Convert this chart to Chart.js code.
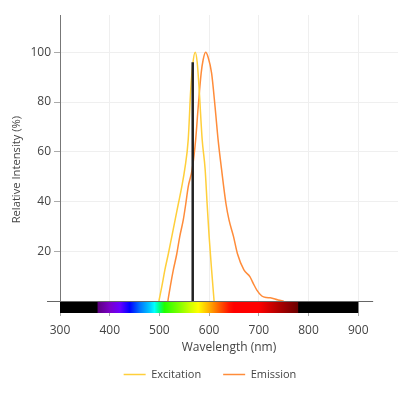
<!doctype html>
<html>

<head>
  <meta charset="utf-8">
  <title>Excitation / Emission Spectrum</title>
  <style>
    html, body { margin: 0; padding: 0; background: #fff; }
    .chartBox { width: 408px; height: 394px; }
  </style>
</head>

<body>
  <div class="chartBox">
    <canvas id="myChart"></canvas>
  </div>

  <script type="text/javascript" src="https://cdn.jsdelivr.net/npm/chart.js"></script>
  <script>
    // values
    const excitationNm  = [499, 505, 511, 518, 525, 532, 538, 545, 551, 558, 563, 567, 572, 576, 580, 586, 592, 596, 600, 605, 610];
    const excitationVal = [0, 6, 12.5, 19, 26, 33, 39, 46, 53, 65, 85, 95, 100, 96, 85, 65, 53, 39, 26, 12.5, 0];

    const emissionNm  = [517, 522, 528, 535, 541, 548, 553, 558, 566, 573, 578, 584, 588, 593, 598, 605, 612, 618, 625, 634, 640, 649, 657, 670, 682, 689, 696, 706, 715, 723, 739, 750];
    const emissionVal = [0, 6, 12.5, 19, 26, 32.6, 39, 46, 53, 65, 78, 91.6, 97, 100, 98, 91.6, 78, 65, 53, 39, 32.6, 26, 19, 12.5, 9.8, 7, 4.4, 2, 1.4, 1.3, 0.4, 0];

    const laserNm = 567;
    const laserTop = 96;

    const xTicks = [300, 400, 500, 600, 700, 800, 900];
    const yTicks = [20, 40, 60, 80, 100];

    // visible-spectrum bar under the axis
    const spectrumNm     = [300, 375, 376, 400, 420, 440, 460, 480, 490, 500, 510, 540, 560, 578, 600, 620, 640, 650, 700, 740, 779, 780, 900];
    const spectrumColors = ['#000000', '#000000', '#5c0080', '#7a00c8', '#6a00ff', '#0000ff', '#0070ff', '#00c8ff', '#00ffff', '#00ff80', '#20ff00', '#80ff00', '#c8ff00', '#ffff00', '#ffb000', '#ff6000', '#ff1500', '#ff0000', '#ff0000', '#b00000', '#6a0000', '#000000', '#000000'];

    const toPoints = (xs, ys) => xs.map((x, i) => ({ x: x, y: ys[i] }));

    const spectrumBar = {
      id: 'spectrumBar',
      afterLayout(chart) {
        // nudge the legend to where the original sits
        const lg = chart.legend;
        lg.left += 11; lg.right += 11;
        lg.top -= 8; lg.bottom -= 8;
      },
      afterDatasetsDraw(chart) {
        const { ctx, chartArea, scales } = chart;
        const x = scales.x;
        const x0 = x.getPixelForValue(spectrumNm[0]);
        const x1 = x.getPixelForValue(spectrumNm[spectrumNm.length - 1]);
        const top = chartArea.bottom + 1;
        const grad = ctx.createLinearGradient(x0, 0, x1, 0);
        spectrumNm.forEach((nm, i) => {
          grad.addColorStop((nm - spectrumNm[0]) / (spectrumNm[spectrumNm.length - 1] - spectrumNm[0]), spectrumColors[i]);
        });
        ctx.save();
        ctx.fillStyle = grad;
        ctx.fillRect(x0, top, x1 - x0, 11);
        // baseline
        ctx.strokeStyle = '#666';
        ctx.lineWidth = 1;
        ctx.beginPath();
        ctx.moveTo(chartArea.left - 13, chartArea.bottom + 0.5);
        ctx.lineTo(x.getPixelForValue(930), chartArea.bottom + 0.5);
        ctx.stroke();
        ctx.restore();
      }
    };

    const data = {
      datasets: [
        {
          label: 'Laser',
          data: [{ x: laserNm, y: 0 }, { x: laserNm, y: laserTop }],
          borderColor: '#222',
          borderWidth: 2.5,
          pointRadius: 0,
          order: 0
        },
        {
          label: 'Excitation',
          data: toPoints(excitationNm, excitationVal),
          borderColor: '#ffcf3a',
          backgroundColor: '#ffcf3a',
          borderWidth: 1.5,
          pointRadius: 0,
          cubicInterpolationMode: 'monotone',
          order: 1
        },
        {
          label: 'Emission',
          data: toPoints(emissionNm, emissionVal),
          borderColor: '#ff8c3a',
          backgroundColor: '#ff8c3a',
          borderWidth: 1.5,
          pointRadius: 0,
          cubicInterpolationMode: 'monotone',
          order: 2
        }
      ]
    };

    const tickFont = { family: 'Open Sans', size: 12 };

    const config = {
      type: 'line',
      data,
      plugins: [spectrumBar],
      options: {
        responsive: true,
        maintainAspectRatio: false,
        animation: false,
        layout: { padding: { top: 15, right: 10, left: 0, bottom: 0 } },
        scales: {
          x: {
            type: 'linear',
            min: 300,
            max: 980,
            afterBuildTicks: (axis) => { axis.ticks = xTicks.map((v) => ({ value: v })); },
            afterFit: (axis) => { axis.height = 54; },
            border: { display: false },
            grid: { color: '#efefef', tickColor: '#aaa', tickLength: 15 },
            ticks: { color: '#444', font: tickFont, padding: 7, maxRotation: 0 },
            title: { display: true, text: 'Wavelength (nm)', color: '#444', font: tickFont, padding: { top: 0, bottom: 0 } }
          },
          y: {
            min: 0,
            max: 115,
            afterBuildTicks: (axis) => { axis.ticks = yTicks.map((v) => ({ value: v })); },
            afterFit: (axis) => { axis.width = 60; },
            border: { display: true, color: '#777' },
            grid: { color: '#efefef', tickColor: '#aaa', tickLength: 6 },
            ticks: { color: '#444', font: tickFont, padding: 3 },
            title: {
              display: true,
              text: 'Relative Intensity (%)' + '\u00a0'.repeat(8),
              color: '#444',
              font: { family: 'Open Sans', size: 11.2 },
              padding: { top: 10, bottom: 0 }
            }
          }
        },
        plugins: {
          legend: {
            position: 'bottom',
            maxHeight: 39,
            labels: {
              filter: (item) => item.text !== 'Laser',
              usePointStyle: true,
              pointStyle: 'line',
              pointStyleWidth: 22,
              color: '#444',
              font: { family: 'Open Sans', size: 11 },
              padding: 22
            }
          },
          tooltip: { enabled: false }
        }
      }
    };

    const myChart = new Chart(document.getElementById('myChart'), config);
  </script>
</body>

</html>
